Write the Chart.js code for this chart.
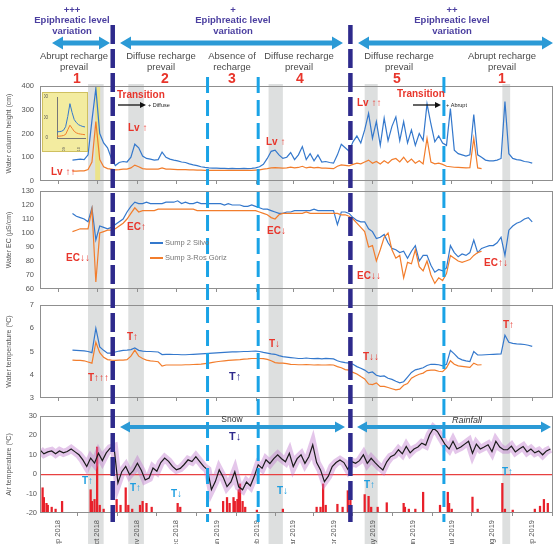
<!DOCTYPE html>
<html><head><meta charset="utf-8">
<script src="https://cdn.jsdelivr.net/npm/chart.js@4.4.1/dist/chart.umd.min.js"></script>
<style>
html,body{margin:0;padding:0;background:#fff;}
#wrap{position:relative;width:560px;height:544px;overflow:hidden;background:#fff;}
#wrap canvas{position:absolute;left:0;top:0;}
#insetBox{position:absolute;left:42px;top:92px;width:46px;height:60px;background:#f3eca0;border:1px solid #cfc060;box-sizing:border-box;}
#insetBox canvas{position:absolute;left:0;top:0;}
</style></head><body>
<div id="wrap">
<canvas id="bg" width="560" height="544"></canvas>
<canvas id="c1" width="560" height="544"></canvas>
<canvas id="c2" width="560" height="544"></canvas>
<canvas id="c3" width="560" height="544"></canvas>
<canvas id="c4" width="560" height="544"></canvas>
<div id="insetBox"><canvas id="inset" width="44" height="58"></canvas></div>
<canvas id="ov" width="560" height="544"></canvas>
</div>
<script>
// ---------- DATA ----------
const monthDays   = [0,30,61,91,122,153,181,212,242,273,303,334,365];
const monthLabels = ['Sep 2018','Oct 2018','Nov 2018','Dec 2018','Jan 2019','Feb 2019','Mar 2019','Apr 2019','May 2019','Jun 2019','Jul 2019','Aug 2019','Sep 2019'];
const seriesNames = ['Sump 2 Silvo','Sump 3-Ros Gòriz'];
const W_START = 11, A_START = -14, STEP = 3;   // days from 1 Sep 2018

const wchBlue = [88,90,92,90,110,255,390,200,160,140,95,65,78,82,80,100,155,140,105,95,
92,88,90,122,100,92,88,85,80,78,72,68,65,60,57,55,54,54,53,53,
52,53,52,52,53,52,53,55,60,70,95,125,130,110,95,100,120,90,110,145,
90,115,85,110,80,82,78,75,110,155,140,125,165,190,160,215,285,180,250,150,
265,170,230,270,170,250,160,215,150,200,170,325,240,165,190,160,150,305,130,115,
110,105,110,280,110,100,88,85,85,88,95,335,115,95,90,88,82,80,75];
const wchOrange = [42,42,43,43,48,80,250,90,60,52,50,47,48,50,50,55,67,60,52,50,
50,50,50,55,50,50,49,48,48,48,47,47,46,46,45,45,45,45,45,45,
45,45,45,45,45,45,45,46,47,50,52,55,56,55,54,55,58,55,57,62,
55,58,55,57,54,54,53,52,62,68,66,64,70,75,72,80,88,75,82,72,
85,75,90,95,80,100,78,92,75,85,72,180,80,72,75,70,62,60,58,57,
56,55,56,180,55,52];
const ecBlue = [114,112,111,110,108,118,95,105,104,103,104,106,108,110,115,119,122,121,121,122,
121,121,121,121,122,122,122,123,121,122,121,121,122,121,121,121,121,121,121,120,
121,120,120,120,119,119,120,119,118,117,117,116,115,114,114,115,115,116,116,116,
116,116,117,116,116,116,116,116,106,115,115,114,111,109,108,108,103,101,96,97,
99,93,89,88,86,87,82,87,91,80,84,84,77,72,74,73,75,91,86,83,
85,84,86,95,86,89,90,91,91,93,97,84,102,105,107,108,110,111,108];
const ecOrange = [101,102,103,103,103,117,65,100,101,102,102,103,105,107,110,114,118,115,116,116,
116,116,117,117,117,117,117,117,117,117,117,117,116,116,116,116,116,116,116,116,
116,116,116,116,116,116,116,116,115,114,113,111,110,113,114,114,114,114,114,114,
115,114,114,114,114,114,114,114,114,113,113,112,110,107,104,101,90,91,80,88,
97,100,88,82,84,68,79,78,88,76,73,80,70,64,68,66,71,84,82,80,
79,80,81,84,86,87];
const tempBlue = [5.06,5.05,5.04,5.03,5.0,4.95,6.0,5.2,5.05,4.93,4.93,4.98,5.02,5.05,5.06,5.08,5.15,5.05,5.02,5.0,
5.0,4.99,4.98,4.87,4.88,4.88,4.87,4.87,4.86,4.86,4.87,4.88,4.89,4.9,4.91,4.92,4.93,4.94,4.95,4.96,
4.97,4.98,4.98,4.99,5.0,5.0,5.01,5.02,5.0,4.96,4.93,4.9,4.88,4.82,4.78,4.76,4.74,4.72,4.7,4.7,
4.72,4.7,4.69,4.7,4.68,4.7,4.69,4.68,4.6,4.55,4.52,4.5,4.45,4.35,4.28,4.2,4.08,4.12,3.98,3.93,
3.95,3.85,3.8,3.72,3.65,3.7,3.9,4.1,4.21,4.25,4.3,4.4,4.45,4.45,4.43,4.38,4.45,5.05,4.9,4.72,
4.64,4.6,4.57,5.0,4.85,4.85,4.86,4.87,4.88,4.89,4.9,5.7,5.4,5.35,5.33,5.32,5.3,5.27,5.22];
const tempOrange = [4.63,4.62,4.62,4.6,4.55,4.5,5.4,4.95,4.75,4.65,4.63,4.62,4.63,4.63,4.65,4.8,5.06,4.8,4.7,4.63,
4.6,4.58,4.56,4.37,4.42,4.42,4.42,4.42,4.42,4.43,4.43,4.44,4.45,4.46,4.48,4.5,4.53,4.56,4.58,4.6,
4.62,4.63,4.64,4.65,4.67,4.68,4.7,4.7,4.7,4.69,4.66,4.6,4.52,4.5,4.5,4.48,4.45,4.44,4.43,4.43,
4.44,4.43,4.42,4.43,4.42,4.42,4.43,4.42,4.35,4.3,4.22,4.2,4.1,4.03,3.92,3.82,3.6,3.58,3.65,3.5,
3.5,3.45,3.4,3.35,3.38,3.55,3.62,3.85,3.95,4.02,4.07,4.18,4.2,4.2,4.15,4.13,4.3,4.6,4.45,4.38,
4.36,4.34,4.32,4.5,4.42,4.43];
const airTemp = [12.5,10.5,11.5,12,10.5,12,11,11.7,13,11.5,10,7.4,4,8.3,5.7,10.8,7,11,13.4,14,
-4.5,1.3,4,-0.3,2,5.7,2,-3,-2,3.2,1.5,6,8.3,6.6,4,2.3,3,5,7.4,6.5,
9,6.5,4,2.3,-8,-3.8,2.3,-1.5,-6.4,-4,1.3,-6.5,-8,-4,-6,-1.1,4.8,3,7.4,5.5,
8,10,8,6.4,10.8,3.9,8,10,5.6,9,15.2,6,2.2,-3.8,-1,3.9,6,7.3,6,2.5,
6.5,5.6,7,10,5.6,8.2,6,3.9,2.2,6.4,9,10,12.6,10.5,14.3,11,13,14,16,15,
20.3,23.7,22,18.6,15.2,13,17,13,14,15.5,17,10.8,15.5,13,14,15.2,11.7,17,14,12.6,
12.6,14.5,11.5,13,14.3,11.5,13,11,12,10,12,13];
const precipDays = [-12,-11,-9,-8,-5,-2,3,25,26,28,30,32,35,45,48,52,54,57,63,65,68,72,92,94,117,
127,130,132,135,136,138,139,140,142,144,153,173,199,202,204,206,215,219,223,225,236,239,241,246,253,
266,267,270,275,281,294,300,301,303,319,323,342,344,350,367,371,374,377];
const precipMm = [13,8,5,4,3,2,6,12,6,7,34,4,2,7,4,13,4,2,4,6,5,3,5,3,2,
6,8,5,8,6,7,12,15,6,3,1.5,2,3,3,15,4,4.5,3,11.5,7,9.5,8.6,3,3,5.3,
5,3,2,2,10.7,4,10.7,5,2,8.2,2,15.3,2,1.5,2,3.5,7,5];
const insetBlue   = [60,62,65,75,110,210,335,250,180,150,130,120,112,108];
const insetOrange = [18,18,20,24,35,80,125,95,65,50,42,38,35,32];
const insetTicks  = [0,200,400];
const insetXLabels = ['26/09','02/10'];
const darkLineDays  = [42,225];
const lightLineDays = [115,154,297];
const grayBands = [[23,35],[54,66],[162,173],[236,246],[342,348]];
const yellowBand = [28.5,32.3];

// ---------- STYLE ----------
Chart.defaults.font.family = "'Liberation Sans', Arial, sans-serif";
Chart.defaults.color = '#555';
const BLUE='#3478cc', ORANGE='#f27d2c';
const X_MIN=-14, X_MAX=381;
const toXY=(arr,start)=>arr.map((v,i)=>({x:start+i*STEP,y:v}));

const framePlugin={id:'frame',afterDraw(chart){const {ctx,chartArea:a}=chart;ctx.save();ctx.strokeStyle='#8f8f8f';ctx.lineWidth=1;ctx.strokeRect(Math.round(a.left)+0.5,Math.round(a.top)+0.5,Math.round(a.width)-1,Math.round(a.height)-1);ctx.restore();}};

function lineDs(label,data,color,order,w){return {label,data,borderColor:color,backgroundColor:color,borderWidth:w||1.2,pointRadius:0,tension:0,order};}

function panel(id,top,bottom,yMin,yMax,step,title,datasets,isLast,extra){
  const scales={
    x:{type:'linear',min:X_MIN,max:X_MAX,offset:false,
      afterBuildTicks(s){s.ticks=monthDays.map(v=>({value:v}));},
      afterFit(s){s.height=isLast?31:0;},
      grid:{drawOnChartArea:false,drawTicks:true,tickLength:3,color:'#8f8f8f'},
      border:{display:false},
      ticks:{display:isLast,minRotation:90,maxRotation:90,autoSkip:false,padding:4,font:{size:7.5},color:'#555',
        callback:(v)=>monthLabels[monthDays.indexOf(v)]}},
    y:{min:yMin,max:yMax,afterFit(s){s.width=40;},
      ticks:{stepSize:step,font:{size:7.5},color:'#555',padding:3},
      grid:{display:false,drawTicks:true,tickLength:3},
      border:{display:false},
      title:{display:true,text:title,font:{size:7},color:'#555',padding:{top:5,bottom:0}}}
  };
  if(extra) extra(scales);
  return new Chart(document.getElementById(id),{type:'line',data:{datasets},
    options:{responsive:false,animation:false,events:[],
      layout:{padding:{top:top,bottom:isLast?0:544-bottom,left:0,right:7}},
      plugins:{legend:{display:false},tooltip:{enabled:false}},scales},
    plugins:[framePlugin]});
}

const c1=panel('c1',86,181,0,400,50,'Water column height (cm)',[
  lineDs(seriesNames[0],toXY(wchBlue,W_START),BLUE,1),
  lineDs(seriesNames[1],toXY(wchOrange,W_START),ORANGE,0)],false);
const c2=panel('c2',191,289,60,130,10,'Water EC (µS/cm)',[
  lineDs(seriesNames[0],toXY(ecBlue,W_START),BLUE,1),
  lineDs(seriesNames[1],toXY(ecOrange,W_START),ORANGE,0)],false);
const c3=panel('c3',305,398,3,7,1,'Water temperature (ºC)',[
  lineDs(seriesNames[0],toXY(tempBlue,W_START),BLUE,1),
  lineDs(seriesNames[1],toXY(tempOrange,W_START),ORANGE,0)],false);
const c4=panel('c4',416,513,-20,30,10,'Air temperature (ºC)',[
  lineDs('Air temperature',toXY(airTemp,A_START),'#1b1b1b',0,1.2),
  lineDs('Air temperature range',toXY(airTemp,A_START),'rgba(190,120,205,0.42)',1,8),
  {type:'bar',label:'Precipitation',data:precipDays.map((d,i)=>({x:d,y:precipMm[i]})),backgroundColor:'#e8202a',
   barThickness:1.6,yAxisID:'yP',order:2}],true,
  (s)=>{s.y.grid={display:true,drawTicks:false,lineWidth:1.2,color:(c)=>c.tick&&c.tick.value===0?'#e84040':'rgba(0,0,0,0)'};
        s.yP={display:false,min:0,max:50};});

// ---------- INSET ----------
new Chart(document.getElementById('inset'),{type:'line',
  data:{datasets:[lineDs('b',insetBlue.map((v,i)=>({x:i,y:v})),BLUE,1,1),lineDs('o',insetOrange.map((v,i)=>({x:i,y:v})),ORANGE,0,1)]},
  options:{responsive:false,animation:false,events:[],layout:{padding:{top:4,right:2,left:1,bottom:0}},
    plugins:{legend:{display:false},tooltip:{enabled:false}},
    scales:{x:{type:'linear',min:0,max:13,afterBuildTicks(s){s.ticks=[{value:3},{value:10}];},
      afterFit(s){s.height=13;},grid:{display:false},border:{color:'#777'},
      ticks:{minRotation:90,maxRotation:90,autoSkip:false,font:{size:4},padding:1,color:'#555',
        callback:(v)=>insetXLabels[v===3?0:1]}},
      y:{min:0,max:400,afterBuildTicks(s){s.ticks=insetTicks.map(v=>({value:v}));},afterFit(s){s.width=13;},
        grid:{display:false},border:{color:'#777'},ticks:{font:{size:4.5},padding:1,color:'#555'}}}}});

// ---------- BACKGROUND (bands) ----------
const xs=c1.scales.x, px=d=>xs.getPixelForValue(d);
const bg=document.getElementById('bg').getContext('2d');
bg.fillStyle='rgba(165,172,172,0.38)';
grayBands.forEach(([a,b])=>bg.fillRect(px(a),84,px(b)-px(a),460));
bg.fillStyle='rgba(240,228,110,0.75)';
bg.fillRect(px(yellowBand[0]),c1.chartArea.top,px(yellowBand[1])-px(yellowBand[0]),c1.chartArea.height);

// ---------- OVERLAY ----------
const ov=document.getElementById('ov').getContext('2d');
const F="'Liberation Sans', Arial, sans-serif";
function txt(s,x,y,font,color,align){ov.font=font+' '+F;ov.fillStyle=color;ov.textAlign=align||'center';ov.textBaseline='middle';ov.fillText(s,x,y);}
function dblArrow(x1,x2,y,col,sh,hl,hw){ov.fillStyle=col;ov.beginPath();ov.moveTo(x1,y);ov.lineTo(x1+hl,y-hw/2);ov.lineTo(x1+hl,y-sh/2);ov.lineTo(x2-hl,y-sh/2);ov.lineTo(x2-hl,y-hw/2);ov.lineTo(x2,y);ov.lineTo(x2-hl,y+hw/2);ov.lineTo(x2-hl,y+sh/2);ov.lineTo(x1+hl,y+sh/2);ov.lineTo(x1+hl,y+hw/2);ov.closePath();ov.fill();}
function arrowR(x1,x2,y,col){ov.strokeStyle=col;ov.fillStyle=col;ov.lineWidth=1.3;ov.beginPath();ov.moveTo(x1,y);ov.lineTo(x2-5,y);ov.stroke();ov.beginPath();ov.moveTo(x2,y);ov.lineTo(x2-6,y-3);ov.lineTo(x2-6,y+3);ov.closePath();ov.fill();}

// header
const PUR='#4b3fa0', GR='#4a4a4a', RED='#e8352b', LB='#2b9ad6', DB='#2e2a8c', TB='#1e9ee0';
[[72,'+++'],[233,'+'],[452,'++']].forEach(([x,p])=>{txt(p,x,10,'bold 9.5px',PUR);txt('Epiphreatic level',x,20.5,'bold 9.5px',PUR);txt('variation',x,31,'bold 9.5px',PUR);});
dblArrow(52,110,43,LB,5,11,13);
dblArrow(120,343,43,LB,5,11,13);
dblArrow(358,553,43,LB,5,11,13);
[[74,'Abrupt recharge','prevail'],[161,'Diffuse recharge','prevail'],[232,'Absence of','recharge'],[299,'Diffuse recharge','prevail'],[399,'Diffuse recharge','prevail'],[502,'Abrupt recharge','prevail']]
 .forEach(([x,a,b])=>{txt(a,x,56,'9.5px',GR);txt(b,x,67,'9.5px',GR);});
[[77,'1'],[165,'2'],[232,'3'],[300,'4'],[397,'5'],[502,'1']].forEach(([x,n])=>txt(n,x,79,'bold 14px',RED));

// dashed event lines
ov.save();ov.setLineDash([19,5]);ov.lineWidth=4.5;ov.strokeStyle=DB;
darkLineDays.forEach(d=>{ov.beginPath();ov.moveTo(px(d),25);ov.lineTo(px(d),522);ov.stroke();});
ov.setLineDash([16,7]);ov.lineWidth=3;ov.strokeStyle='#1aa3e6';
lightLineDays.forEach(d=>{ov.beginPath();ov.moveTo(px(d),77);ov.lineTo(px(d),522);ov.stroke();});
ov.restore();

// panel 1 annotations
txt('Lv ↑↑',51,172,'bold 10px',RED,'left');
txt('Lv ↑',128,128,'bold 10px',RED,'left');
txt('Lv ↑',266,142,'bold 10px',RED,'left');
txt('Lv ↑↑',357,103,'bold 10px',RED,'left');
txt('Transition',117,95,'bold 10px',RED,'left');
arrowR(118,146,105,'#111');txt('+ Diffuse',148,105,'5.5px','#222','left');
txt('Transition',397,94,'bold 10px',RED,'left');
arrowR(413,441,105,'#111');txt('+ Abrupt',446,105,'5.5px','#222','left');

// panel 2 annotations + legend
txt('EC↑',127,227,'bold 10px',RED,'left');
txt('EC↓↓',66,258,'bold 10px',RED,'left');
txt('EC↓',267,231,'bold 10px',RED,'left');
txt('EC↓↓',357,276,'bold 10px',RED,'left');
txt('EC↑↓',484,263,'bold 10px',RED,'left');
c2.data.datasets.forEach((ds,i)=>{const y=243+i*15;ov.strokeStyle=ds.borderColor;ov.lineWidth=2;ov.beginPath();ov.moveTo(150,y);ov.lineTo(163,y);ov.stroke();txt(ds.label,165,y,'7.5px','#777','left');});

// panel 3 annotations
txt('T↑↑↑',88,378,'bold 10px',RED,'left');
txt('T↑',127,337,'bold 10px',RED,'left');
txt('T↓',269,344,'bold 10px',RED,'left');
txt('T↓↓',363,357,'bold 10px',RED,'left');
txt('T↑',503,325,'bold 10px',RED,'left');
txt('T↑',229,377,'bold 11px',DB,'left');

// panel 4 annotations
dblArrow(120,345,427,LB,4,10,11);
dblArrow(357,551,427,LB,4,10,11);
txt('Snow',232,420,'8.5px','#333');
txt('Rainfall',467,420,'italic 9px','#333');
txt('T↓',229,437,'bold 11px',DB,'left');
[[82,481,'T↑'],[130,488,'T↑'],[171,494,'T↓'],[277,491,'T↓'],[364,485,'T↑'],[502,472,'T↑']].forEach(([x,y,s])=>txt(s,x,y,'bold 10px',TB,'left'));
</script>
</body></html>
